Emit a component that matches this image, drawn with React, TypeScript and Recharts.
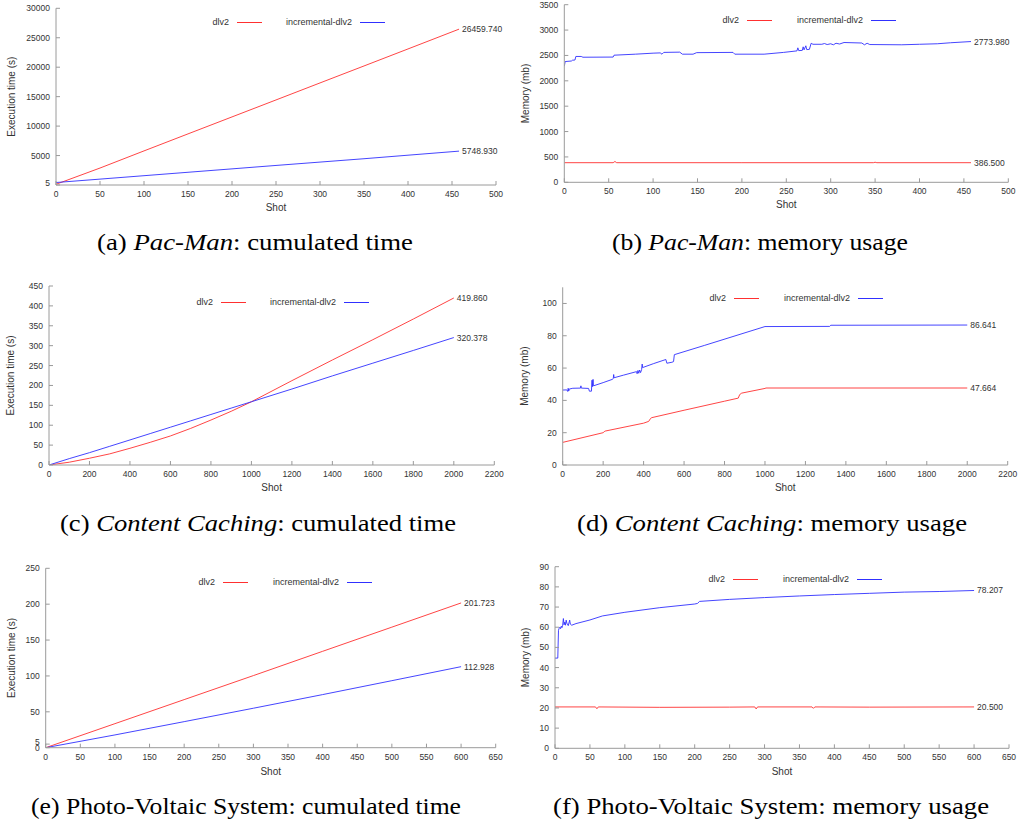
import React from 'react';
import { LineChart, Line, XAxis, YAxis, Legend, LabelList } from 'recharts';

// ---------------- DATA ----------------
// (a) Pac-Man: cumulated time
const pacmanTimeShots = [0, 50, 100, 150, 200, 250, 300, 350, 400, 458];
const pacmanTimeDlv2 = [120, 2880, 5790, 8680, 11560, 14440, 17330, 20210, 23100, 26459.74];
const pacmanTimeIncr = [420, 1000, 1580, 2160, 2740, 3320, 3890, 4460, 5060, 5748.93];

// (b) Pac-Man: memory usage
const pacmanMemDlv2Shots = [0, 55, 57, 59, 200, 348, 350, 352, 458];
const pacmanMemDlv2 = [386.5, 386.5, 410, 386.5, 386.5, 386.5, 395, 386.5, 386.5];
const pacmanMemIncrShots = [0, 1, 8, 9, 12, 13, 19, 21, 55, 56, 80, 100, 108, 110, 112, 130, 133, 145, 149, 190, 192, 225, 247, 262, 263, 264, 268, 269, 270, 272, 273, 276, 278, 280, 290, 293, 296, 300, 303, 306, 310, 315, 335, 338, 341, 344, 380, 400, 420, 435, 458];
const pacmanMemIncr = [2290, 2380, 2390, 2405, 2410, 2480, 2480, 2465, 2468, 2505, 2525, 2545, 2550, 2525, 2560, 2565, 2525, 2525, 2555, 2560, 2525, 2525, 2560, 2590, 2650, 2595, 2600, 2670, 2610, 2690, 2615, 2620, 2740, 2720, 2720, 2735, 2715, 2730, 2710, 2740, 2725, 2755, 2745, 2710, 2740, 2715, 2710, 2720, 2730, 2750, 2773.98];

// (c) Content Caching: cumulated time
const cachingTimeShots = [0, 100, 200, 300, 400, 500, 600, 700, 800, 900, 1000, 1200, 1400, 1600, 1800, 2000];
const cachingTimeDlv2 = [0, 7, 17, 28, 42, 57, 73, 92, 113, 135, 159, 212, 264, 315, 367, 419.86];
const cachingTimeIncr = [0, 16, 31, 47, 63, 79, 95, 111, 127, 143, 159, 191, 224, 256, 288, 320.378];

// (d) Content Caching: memory usage
const cachingMemDlv2Shots = [0, 200, 205, 210, 400, 425, 435, 440, 600, 800, 868, 875, 885, 1000, 1005, 2000];
const cachingMemDlv2 = [14.0, 20.0, 20.6, 21.0, 25.9, 27.0, 28.9, 29.3, 33.9, 39.5, 41.4, 43.6, 44.5, 47.4, 47.664, 47.664];
const cachingMemIncrShots = [0, 20, 25, 27, 30, 32, 50, 88, 90, 92, 128, 132, 142, 145, 147, 150, 152, 200, 245, 250, 252, 254, 300, 365, 368, 372, 376, 380, 385, 390, 393, 395, 450, 510, 515, 540, 548, 552, 700, 1000, 1320, 1325, 2000];
const cachingMemIncr = [46.4, 46.5, 45.5, 47.5, 45.8, 47.0, 47.5, 47.6, 49.0, 47.6, 47.4, 45.7, 45.7, 52.5, 48.5, 53.0, 49.0, 51.0, 53.0, 53.5, 56.0, 54.0, 55.6, 57.8, 56.5, 58.5, 56.8, 58.8, 57.2, 59.0, 62.5, 60.3, 62.8, 65.3, 63.0, 63.6, 64.0, 68.3, 74.0, 85.7, 85.8, 86.5, 86.641];

// (e) Photo-Voltaic System: cumulated time
const pvTimeShots = [0, 100, 200, 300, 400, 500, 600];
const pvTimeDlv2 = [0, 33.5, 67, 100.5, 134.3, 168, 201.723];
const pvTimeIncr = [0, 17.8, 36.3, 55, 74, 93.4, 112.928];

// (f) Photo-Voltaic System: memory usage
const pvMemDlv2Shots = [0, 58, 60, 62, 150, 250, 286, 288, 290, 368, 370, 372, 450, 600];
const pvMemDlv2 = [20.5, 20.5, 19.6, 20.5, 20.3, 20.4, 20.5, 19.5, 20.5, 20.5, 19.8, 20.5, 20.4, 20.5];
const pvMemIncrShots = [0, 4, 5, 6, 7, 8, 9, 10, 11, 12, 13, 14, 15, 16, 17, 19, 21, 22, 24, 30, 50, 68, 100, 150, 200, 204, 207, 250, 300, 350, 400, 450, 500, 550, 600];
const pvMemIncr = [44.7, 44.7, 58.5, 59.5, 60.0, 59.3, 60.5, 59.8, 61.0, 64.3, 61.2, 62.5, 61.0, 63.5, 62.0, 60.8, 63.5, 61.5, 61.0, 61.8, 63.6, 65.6, 67.4, 69.7, 71.5, 71.8, 72.8, 73.8, 74.7, 75.5, 76.2, 76.8, 77.4, 77.7, 78.207];

// tick lists
const xTicks500 = [0, 50, 100, 150, 200, 250, 300, 350, 400, 450, 500];
const xTicks2200 = [0, 200, 400, 600, 800, 1000, 1200, 1400, 1600, 1800, 2000, 2200];
const xTicks650 = [0, 50, 100, 150, 200, 250, 300, 350, 400, 450, 500, 550, 600, 650];
const yTicksA = [5, 5000, 10000, 15000, 20000, 25000, 30000];
const yTicksB = [0, 500, 1000, 1500, 2000, 2500, 3000, 3500];
const yTicksC = [0, 50, 100, 150, 200, 250, 300, 350, 400, 450];
const yTicksD = [0, 20, 40, 60, 80, 100];
const yTicksE = [0, 5, 50, 100, 150, 200, 250];
const yTicksF = [0, 10, 20, 30, 40, 50, 60, 70, 80, 90];

// ---------------- STYLE ----------------
const FONT = '"Liberation Sans", Arial, sans-serif';
const SERIF = "'Liberation Serif', 'DejaVu Serif', serif";
const FRAME = '#9a9a9a';
const TXT = '#333333';
const RED = '#ff3030';
const BLUE = '#3030ff';
const TICK = 4;

type Pt = { x: number; y: number };
const zip = (xs: number[], ys: number[]): Pt[] => xs.map((x, i) => ({ x, y: ys[i] }));

const BottomTick = (props: any) => {
  const { x, y, payload } = props;
  return (
    <g>
      <line x1={x} x2={x} y1={y} y2={y - TICK} stroke={FRAME} strokeWidth={1} />
      <text x={x} y={y + 12} textAnchor="middle" fontSize={8.5} fill={TXT} style={{ fontFamily: FONT }}>
        {String(payload.value)}
      </text>
    </g>
  );
};
const TopTick = (props: any) => {
  const { x, y } = props;
  return <line x1={x} x2={x} y1={y} y2={y + TICK} stroke={FRAME} strokeWidth={1} />;
};
const LeftTick = (props: any) => {
  const { x, y, payload } = props;
  // the "5" tick sits right above the "0" tick in the photo-voltaic panel; lift it slightly
  const lift = payload.value === 5 ? -2 : 0;
  return (
    <g>
      <line x1={x} x2={x + TICK} y1={y} y2={y} stroke={FRAME} strokeWidth={1} />
      <text x={x - 6} y={y + 3 + lift} textAnchor="end" fontSize={8.5} fill={TXT} style={{ fontFamily: FONT }}>
        {String(payload.value)}
      </text>
    </g>
  );
};
const RightTick = (props: any) => {
  const { x, y } = props;
  return <line x1={x} x2={x - TICK} y1={y} y2={y} stroke={FRAME} strokeWidth={1} />;
};

const endLabel = (n: number) => (props: any) => {
  const { x, y, value, index } = props;
  if (index !== n - 1) return null;
  return (
    <text x={x + 3} y={y + 3} fontSize={8.5} fill={TXT} style={{ fontFamily: FONT }}>
      {Number(value).toFixed(3)}
    </text>
  );
};

type PanelCfg = {
  left: number;
  top: number;
  width: number;
  height: number;
  mt: number;
  mr: number;
  yW: number;
  xH: number;
  xDomain: [number, number];
  xTicks: number[];
  yDomain: [number, number];
  yTicks: number[];
  yTitle: string;
  yTitleOffset: number;
  xTitleOffset: number;
  red: Pt[];
  blue: Pt[];
  lg: { y: number; s1: number; s2: number };
};

const Sample = ({ left, color }: { left: number; color: string }) => (
  <svg width={25} height={3} style={{ position: 'absolute', left, top: 6, overflow: 'visible' }}>
    <line x1={0} x2={25} y1={1.5} y2={1.5} stroke={color} strokeWidth={1} />
  </svg>
);

const makeLegend = (c: PanelCfg) => () => (
  <div style={{ position: 'relative', width: c.width, height: 14, fontFamily: FONT, fontSize: 9, color: TXT }}>
    <span style={{ position: 'absolute', right: c.width - (c.lg.s1 - 8), top: 0, lineHeight: '14px', whiteSpace: 'nowrap' }}>dlv2</span>
    <Sample left={c.lg.s1} color={RED} />
    <span style={{ position: 'absolute', right: c.width - (c.lg.s2 - 8), top: 0, lineHeight: '14px', whiteSpace: 'nowrap' }}>incremental-dlv2</span>
    <Sample left={c.lg.s2} color={BLUE} />
  </div>
);

const Panel = ({ c }: { c: PanelCfg }) => (
  <div style={{ position: 'absolute', left: c.left, top: c.top, width: c.width, height: c.height }}>
    <LineChart width={c.width} height={c.height} margin={{ top: c.mt, right: c.mr, left: 0, bottom: 0 }}>
      <XAxis
        xAxisId="b"
        orientation="bottom"
        type="number"
        dataKey="x"
        domain={c.xDomain}
        ticks={c.xTicks}
        allowDataOverflow
        interval={0}
        height={c.xH}
        tickSize={0}
        tickMargin={0}
        tickLine={false}
        axisLine={{ stroke: FRAME }}
        tick={BottomTick}
        label={{ value: 'Shot', position: 'insideBottom', offset: c.xTitleOffset, style: { fontSize: 10, fill: TXT, fontFamily: FONT } }}
      />
      <XAxis
        xAxisId="t"
        orientation="top"
        type="number"
        dataKey="x"
        domain={c.xDomain}
        ticks={c.xTicks}
        allowDataOverflow
        interval={0}
        height={0}
        tickSize={0}
        tickMargin={0}
        tickLine={false}
        axisLine={{ stroke: FRAME }}
        tick={TopTick}
      />
      <YAxis
        yAxisId="l"
        orientation="left"
        type="number"
        domain={c.yDomain}
        ticks={c.yTicks}
        allowDataOverflow
        interval={0}
        width={c.yW}
        tickSize={0}
        tickMargin={0}
        tickLine={false}
        axisLine={{ stroke: FRAME }}
        tick={LeftTick}
        label={{ value: c.yTitle, angle: -90, position: 'insideLeft', offset: c.yTitleOffset, style: { textAnchor: 'middle', fontSize: 10, fill: TXT, fontFamily: FONT } }}
      />
      <YAxis
        yAxisId="r"
        orientation="right"
        type="number"
        domain={c.yDomain}
        ticks={c.yTicks}
        allowDataOverflow
        interval={0}
        width={0}
        tickSize={0}
        tickMargin={0}
        tickLine={false}
        axisLine={{ stroke: FRAME }}
        tick={RightTick}
      />
      <Legend
        verticalAlign="middle"
        align="center"
        content={makeLegend(c)}
        wrapperStyle={{ left: 0, top: c.lg.y - 7, width: c.width, height: 14, margin: 0, padding: 0 }}
      />
      <Line
        xAxisId="b"
        yAxisId="l"
        data={c.red}
        dataKey="y"
        name="dlv2"
        type="linear"
        stroke={RED}
        strokeWidth={0.9}
        dot={false}
        activeDot={false}
        isAnimationActive={false}
      >
        <LabelList dataKey="y" content={endLabel(c.red.length)} />
      </Line>
      <Line
        xAxisId="b"
        yAxisId="l"
        data={c.blue}
        dataKey="y"
        name="incremental-dlv2"
        type="linear"
        stroke={BLUE}
        strokeWidth={0.9}
        dot={false}
        activeDot={false}
        isAnimationActive={false}
      >
        <LabelList dataKey="y" content={endLabel(c.blue.length)} />
      </Line>
    </LineChart>
  </div>
);

const panels: PanelCfg[] = [
  {
    left: 0, top: 0, width: 510, height: 222, mt: 8.3, mr: 14, yW: 56, xH: 37,
    xDomain: [0, 500], xTicks: xTicks500, yDomain: [0, 30000], yTicks: yTicksA,
    yTitle: 'Execution time (s)', yTitleOffset: 11, xTitleOffset: 11,
    red: zip(pacmanTimeShots, pacmanTimeDlv2), blue: zip(pacmanTimeShots, pacmanTimeIncr),
    lg: { y: 22, s1: 237, s2: 360 },
  },
  {
    left: 510, top: 0, width: 511, height: 222, mt: 4.7, mr: 12.7, yW: 54.3, xH: 39.7,
    xDomain: [0, 500], xTicks: xTicks500, yDomain: [0, 3500], yTicks: yTicksB,
    yTitle: 'Memory (mb)', yTitleOffset: 15, xTitleOffset: 14,
    red: zip(pacmanMemDlv2Shots, pacmanMemDlv2), blue: zip(pacmanMemIncrShots, pacmanMemIncr),
    lg: { y: 20, s1: 237, s2: 361 },
  },
  {
    left: 0, top: 280, width: 510, height: 222, mt: 6, mr: 15.7, yW: 49, xH: 37,
    xDomain: [0, 2200], xTicks: xTicks2200, yDomain: [0, 450], yTicks: yTicksC,
    yTitle: 'Execution time (s)', yTitleOffset: 10.7, xTitleOffset: 11.5,
    red: zip(cachingTimeShots, cachingTimeDlv2), blue: zip(cachingTimeShots, cachingTimeIncr),
    lg: { y: 22, s1: 221, s2: 344 },
  },
  {
    left: 510, top: 280, width: 511, height: 222, mt: 7.3, mr: 13.3, yW: 52.7, xH: 37,
    xDomain: [0, 2200], xTicks: xTicks2200, yDomain: [0, 110], yTicks: yTicksD,
    yTitle: 'Memory (mb)', yTitleOffset: 14, xTitleOffset: 11,
    red: zip(cachingMemDlv2Shots, cachingMemDlv2), blue: zip(cachingMemIncrShots, cachingMemIncr),
    lg: { y: 18, s1: 224, s2: 348 },
  },
  {
    left: 0, top: 555, width: 510, height: 230, mt: 13.3, mr: 14.3, yW: 45.7, xH: 37.3,
    xDomain: [0, 650], xTicks: xTicks650, yDomain: [0, 250], yTicks: yTicksE,
    yTitle: 'Execution time (s)', yTitleOffset: 11, xTitleOffset: 10.5,
    red: zip(pvTimeShots, pvTimeDlv2), blue: zip(pvTimeShots, pvTimeIncr),
    lg: { y: 27, s1: 223, s2: 347 },
  },
  {
    left: 510, top: 555, width: 511, height: 230, mt: 11.7, mr: 12, yW: 45, xH: 36.7,
    xDomain: [0, 650], xTicks: xTicks650, yDomain: [0, 90], yTicks: yTicksF,
    yTitle: 'Memory (mb)', yTitleOffset: 15, xTitleOffset: 10.5,
    red: zip(pvMemDlv2Shots, pvMemDlv2), blue: zip(pvMemIncrShots, pvMemIncr),
    lg: { y: 24, s1: 223, s2: 347 },
  },
];

type Cap = { x: number; y: number; w: number; parts: [string, boolean][] };
const captions: Cap[] = [
  { x: 97, y: 250, w: 316, parts: [['(a) ', false], ['Pac-Man', true], [': cumulated time', false]] },
  { x: 612, y: 250, w: 296, parts: [['(b) ', false], ['Pac-Man', true], [': memory usage', false]] },
  { x: 60, y: 531, w: 396, parts: [['(c) ', false], ['Content Caching', true], [': cumulated time', false]] },
  { x: 577, y: 531, w: 390, parts: [['(d) ', false], ['Content Caching', true], [': memory usage', false]] },
  { x: 31, y: 814, w: 430, parts: [['(e) Photo-Voltaic System: cumulated time', false]] },
  { x: 553, y: 814, w: 436, parts: [['(f) Photo-Voltaic System: memory usage', false]] },
];

export default function App() {
  return (
    <div style={{ position: 'absolute', left: 0, top: 0, width: 1021, height: 823, background: '#fff', overflow: 'hidden' }}>
      {panels.map((p, i) => (
        <Panel key={i} c={p} />
      ))}
      <svg width={1021} height={823} style={{ position: 'absolute', left: 0, top: 0, pointerEvents: 'none' }}>
        {captions.map((c, i) => (
          <text key={i} x={c.x} y={c.y} textLength={c.w} lengthAdjust="spacingAndGlyphs" fontSize={23} fill="#000" style={{ fontFamily: SERIF }}>
            {c.parts.map(([t, it], j) => (
              <tspan key={j} fontStyle={it ? 'italic' : 'normal'}>
                {t}
              </tspan>
            ))}
          </text>
        ))}
      </svg>
    </div>
  );
}
